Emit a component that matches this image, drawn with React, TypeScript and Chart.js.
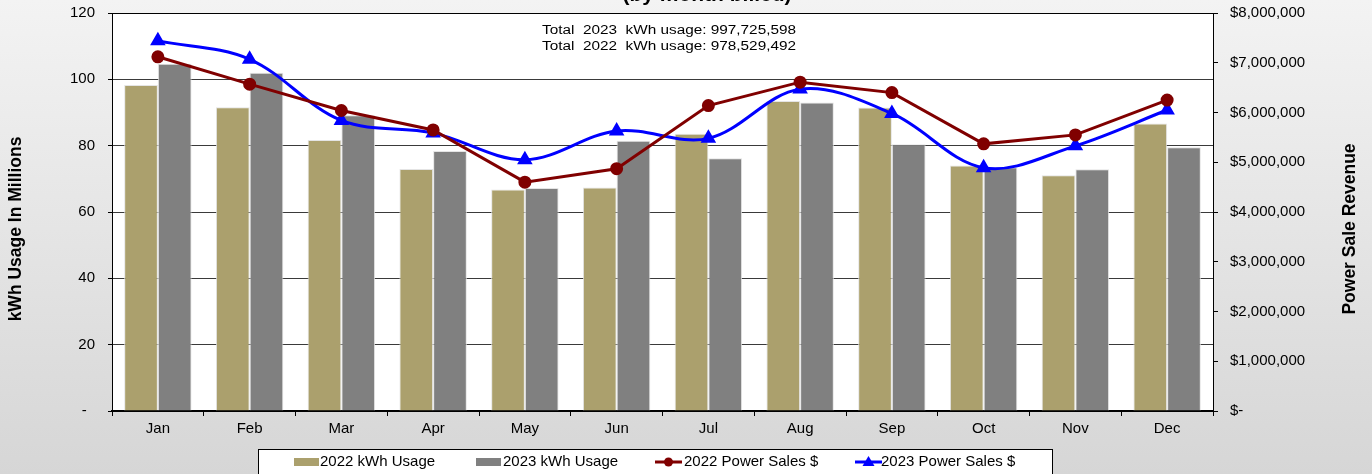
import React, { useEffect, useRef } from 'react';
import { Chart, registerables } from 'chart.js';

Chart.register(...registerables);

const months = ['Jan', 'Feb', 'Mar', 'Apr', 'May', 'Jun', 'Jul', 'Aug', 'Sep', 'Oct', 'Nov', 'Dec'];
const usage2022 = [98.3, 91.6, 81.7, 73.0, 66.8, 67.4, 83.6, 93.5, 91.5, 74.0, 71.1, 86.7];
const usage2023 = [104.7, 102.0, 89.2, 78.4, 67.2, 81.5, 76.2, 93.0, 80.4, 73.5, 72.9, 79.5];
const sales2022 = [7120000, 6570000, 6040000, 5650000, 4600000, 4870000, 6140000, 6610000, 6400000, 5370000, 5550000, 6250000];
const sales2023 = [7440000, 7070000, 5840000, 5590000, 5050000, 5630000, 5480000, 6470000, 5980000, 4890000, 5330000, 6050000];
const seriesLabels = ['2022 kWh Usage', '2023 kWh Usage', '2022 Power Sales $', '2023 Power Sales $'];
const titleText = '(by month billed)';
const totalsLines = ['Total  2023  kWh usage: 997,725,598', 'Total  2022  kWh usage: 978,529,492'];
const leftAxisTitle = 'kWh Usage In Millions';
const rightAxisTitle = 'Power Sale Revenue';

const TAN = '#ABA06D';
const GRAY = '#808080';
const RED = '#800000';
const BLUE = '#0000FF';
const FONT = 'Arial, "Liberation Sans", sans-serif';

const decorPlugin = {
  id: 'decor',
  beforeDraw(chart: any) {
    const { ctx, width, height, chartArea } = chart;
    ctx.save();
    const g = ctx.createLinearGradient(0, 0, 0, height);
    g.addColorStop(0, '#f3f3f3');
    g.addColorStop(1, '#d6d6d6');
    ctx.fillStyle = g;
    ctx.fillRect(0, 0, width, height);
    ctx.fillStyle = '#ffffff';
    ctx.fillRect(chartArea.left, chartArea.top, chartArea.right - chartArea.left, chartArea.bottom - chartArea.top);
    ctx.restore();
  },
  afterDraw(chart: any) {
    const { ctx, chartArea } = chart;
    ctx.save();
    // title (cut off at top)
    ctx.fillStyle = '#000';
    ctx.font = `bold 21px ${FONT}`;
    ctx.textAlign = 'center';
    ctx.textBaseline = 'alphabetic';
    ctx.fillText(titleText, 707, 1);

    // top border line
    ctx.strokeStyle = '#000';
    ctx.lineWidth = 1;
    ctx.beginPath();
    ctx.moveTo(chartArea.left, chartArea.top + 0.5);
    ctx.lineTo(chartArea.right, chartArea.top + 0.5);
    ctx.stroke();

    // totals annotation
    ctx.font = `12.5px ${FONT}`;
    ctx.textAlign = 'left';
    const targetW = 254;
    totalsLines.forEach((t, i) => {
      const w = ctx.measureText(t).width;
      const sx = targetW / w;
      ctx.save();
      ctx.translate(542, 34 + i * 16);
      ctx.scale(sx, 1);
      ctx.fillText(t, 0, 0);
      ctx.restore();
    });

    // axis titles
    ctx.font = `bold 17.5px ${FONT}`;
    ctx.textAlign = 'center';
    ctx.textBaseline = 'middle';
    ctx.save();
    ctx.translate(16, 229);
    ctx.rotate(-Math.PI / 2);
    ctx.fillText(leftAxisTitle, 0, 0);
    ctx.restore();
    ctx.save();
    ctx.translate(1350, 229);
    ctx.rotate(-Math.PI / 2);
    ctx.fillText(rightAxisTitle, 0, 0);
    ctx.restore();

    // legend
    ctx.fillStyle = '#fff';
    ctx.fillRect(258.5, 449.5, 794, 40);
    ctx.strokeStyle = '#000';
    ctx.lineWidth = 1;
    ctx.strokeRect(258.5, 449.5, 794, 40);
    const swX = [294, 476, 655, 855];
    const txX = [320, 503, 684, 881];
    const ly = 462;
    ctx.font = `15px ${FONT}`;
    ctx.textAlign = 'left';
    ctx.textBaseline = 'middle';
    chart.data.datasets.forEach((ds: any, i: number) => {
      if (ds.type === 'bar') {
        ctx.fillStyle = ds.backgroundColor;
        ctx.fillRect(swX[i], ly - 4, 25, 8);
      } else {
        ctx.strokeStyle = ds.borderColor;
        ctx.lineWidth = 3;
        ctx.beginPath();
        ctx.moveTo(swX[i], ly);
        ctx.lineTo(swX[i] + 27, ly);
        ctx.stroke();
        ctx.fillStyle = ds.borderColor;
        const cx = swX[i] + 13.5;
        if (ds.pointStyle === 'triangle') {
          ctx.beginPath();
          ctx.moveTo(cx, ly - 6);
          ctx.lineTo(cx + 6, ly + 4);
          ctx.lineTo(cx - 6, ly + 4);
          ctx.closePath();
          ctx.fill();
        } else {
          ctx.beginPath();
          ctx.arc(cx, ly, 4.5, 0, Math.PI * 2);
          ctx.fill();
        }
      }
      ctx.fillStyle = '#000';
      ctx.fillText(ds.label, txX[i], ly);
    });
    ctx.restore();
  },
};

const noPad = (s: any) => {
  s.paddingTop = 0;
  s.paddingBottom = 0;
  s.paddingLeft = 0;
  s.paddingRight = 0;
};

export default function App() {
  const canvasRef = useRef<HTMLCanvasElement | null>(null);

  useEffect(() => {
    const canvas = canvasRef.current;
    if (!canvas) return;
    const chart = new Chart(canvas, {
      type: 'bar',
      data: {
        labels: months,
        datasets: [
          {
            type: 'bar',
            label: seriesLabels[0],
            data: usage2022,
            backgroundColor: TAN,
            borderColor: 'rgba(225,225,225,0.9)',
            borderWidth: 1,
            yAxisID: 'y',
            order: 2,
            categoryPercentage: 0.735,
            barPercentage: 1,
          },
          {
            type: 'bar',
            label: seriesLabels[1],
            data: usage2023,
            backgroundColor: GRAY,
            borderColor: 'rgba(225,225,225,0.9)',
            borderWidth: 1,
            yAxisID: 'y',
            order: 2,
            categoryPercentage: 0.735,
            barPercentage: 1,
          },
          {
            type: 'line',
            label: seriesLabels[2],
            data: sales2022,
            borderColor: RED,
            backgroundColor: RED,
            borderWidth: 3,
            pointStyle: 'circle',
            pointRadius: 5,
            pointBackgroundColor: RED,
            pointBorderColor: RED,
            tension: 0,
            yAxisID: 'y1',
            order: 0,
          },
          {
            type: 'line',
            label: seriesLabels[3],
            data: sales2023,
            borderColor: BLUE,
            backgroundColor: BLUE,
            borderWidth: 3,
            pointStyle: 'triangle',
            pointRadius: 6,
            pointBackgroundColor: BLUE,
            pointBorderColor: BLUE,
            tension: 0.35,
            yAxisID: 'y1',
            order: 0,
          },
        ] as any,
      },
      options: {
        responsive: false,
        animation: false,
        layout: { padding: { top: 13, left: 0, right: 0, bottom: 0 } },
        plugins: {
          legend: { display: false },
          title: { display: false },
          tooltip: { enabled: false },
        },
        scales: {
          x: {
            offset: true,
            grid: {
              offset: true,
              drawOnChartArea: false,
              drawTicks: true,
              tickLength: 5,
              color: '#000',
            },
            border: { display: true, color: '#000', width: 2 },
            ticks: { color: '#000', font: { family: FONT, size: 15 }, padding: 4, maxRotation: 0 },
            afterFit: (s: any) => { s.height = 63; noPad(s); },
          },
          y: {
            position: 'left',
            min: 0,
            max: 120,
            grid: {
              color: (c: any) => (c.tick && c.tick.value === 120 ? '#000' : '#3a3a3a'),
              lineWidth: 1,
              drawTicks: true,
              tickLength: 4,
              tickColor: '#000',
            },
            border: { display: true, color: '#000', width: 1 },
            ticks: {
              stepSize: 20,
              color: '#000',
              padding: 13,
              font: { family: FONT, size: 15 },
              callback: (v: any) => (Number(v) === 0 ? '-  ' : String(v)),
            },
            afterFit: (s: any) => { s.width = 112; noPad(s); },
          },
          y1: {
            position: 'right',
            min: 0,
            max: 8000000,
            grid: {
              drawOnChartArea: false,
              drawTicks: true,
              tickLength: 5,
              color: '#000',
            },
            border: { display: true, color: '#000', width: 1 },
            ticks: {
              stepSize: 1000000,
              color: '#000',
              padding: 12,
              font: { family: FONT, size: 15 },
              callback: (v: any) => (Number(v) === 0 ? '$-' : '$' + Number(v).toLocaleString('en-US')),
            },
            afterFit: (s: any) => { s.width = 159; noPad(s); },
          },
        },
      } as any,
      plugins: [decorPlugin],
    });
    return () => chart.destroy();
  }, []);

  return (
    <div style={{ position: 'absolute', left: 0, top: 0, width: 1372, height: 474, overflow: 'hidden' }}>
      <canvas ref={canvasRef} width={1372} height={474} style={{ display: 'block', width: 1372, height: 474 }} />
    </div>
  );
}
